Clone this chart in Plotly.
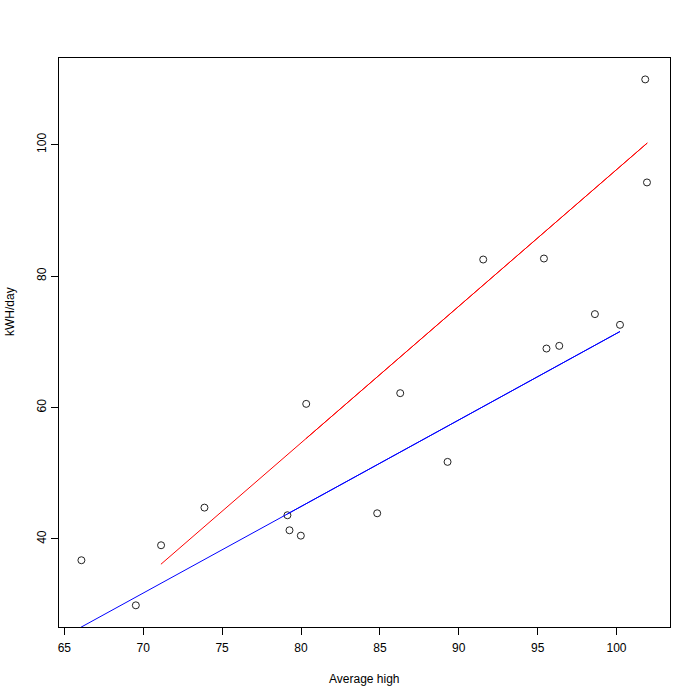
import plotly.graph_objects as go

# Data points (Average high vs kWH/day)
avg_high = [66.08, 69.53, 71.13, 73.88, 79.14, 79.27, 79.99, 80.33, 84.83, 86.29,
            89.29, 91.55, 95.40, 95.56, 96.37, 98.63, 100.22, 101.82, 101.93]
kwh_day = [36.76, 29.90, 39.04, 44.77, 43.61, 41.32, 40.50, 60.56, 43.91, 62.19,
           51.73, 82.53, 82.68, 68.98, 69.39, 74.22, 72.59, 109.94, 94.26]

# Fitted lines
red_x = [71.12, 101.95]
red_y = [36.15, 100.26]
blue_x = [66.04, 100.22]
blue_y = [26.55, 71.57]

# overdrawn parts (fitted lines drawn repeatedly in R)
red_x2 = [80.33, 101.95]
blue_x2 = [79.14, 100.22]

def interp(xs, ys, x):
    return ys[0] + (ys[1] - ys[0]) * (x - xs[0]) / (xs[1] - xs[0])

red_y2 = [interp(red_x, red_y, v) for v in red_x2]
blue_y2 = [interp(blue_x, blue_y, v) for v in blue_x2]

x_ticks = [65, 70, 75, 80, 85, 90, 95, 100]
y_ticks = [40, 60, 80, 100]

fig = go.Figure()
fig.add_trace(go.Scatter(x=avg_high, y=kwh_day, mode="markers",
                         marker=dict(symbol="circle-open", size=7,
                                     color="#222222", line=dict(width=1)),
                         showlegend=False))
fig.add_trace(go.Scatter(x=red_x, y=red_y, mode="lines",
                         line=dict(color="red", width=1), showlegend=False))
fig.add_trace(go.Scatter(x=red_x2, y=red_y2, mode="lines",
                         line=dict(color="red", width=1), showlegend=False))
fig.add_trace(go.Scatter(x=blue_x, y=blue_y, mode="lines",
                         line=dict(color="blue", width=1), showlegend=False))
fig.add_trace(go.Scatter(x=blue_x2, y=blue_y2, mode="lines",
                         line=dict(color="blue", width=1), showlegend=False))

font = dict(family="Liberation Sans, Arial, sans-serif", size=12, color="black")

W, H = 700, 700
ML, MR, MT, MB = 59, 30, 58, 73

fig.update_layout(
    width=W, height=H,
    margin=dict(l=ML, r=MR, t=MT, b=MB, autoexpand=False),
    paper_bgcolor="white", plot_bgcolor="white",
    font=font,
    showlegend=False,
    xaxis=dict(range=[64.66, 103.39], tickvals=x_ticks,
               ticktext=[str(v) for v in x_ticks],
               showgrid=False, zeroline=False,
               showline=True, mirror=True, linecolor="black", linewidth=1,
               ticks="outside", ticklen=7, tickcolor="black", tickwidth=1,
               tickfont=font, ticklabelstandoff=3, automargin=False),
    yaxis=dict(range=[26.6, 113.2], tickvals=y_ticks,
               ticktext=[str(v) for v in y_ticks],
               showgrid=False, zeroline=False,
               showline=True, mirror=True, linecolor="black", linewidth=1,
               ticks="outside", ticklen=7, tickcolor="black", tickwidth=1,
               tickangle=-90, tickfont=font, automargin=False),
)

# axis titles placed at reference pixel positions
pw = W - ML - MR
ph = H - MT - MB
def to_paper(px, py):
    return ((px - ML) / pw, (H - MB - py) / ph)

ax, ay = to_paper(364, 679)
bx, by = to_paper(10, 312)
fig.add_annotation(text="Average high", x=ax, y=ay, xref="paper", yref="paper",
                   showarrow=False, font=font, xanchor="center", yanchor="middle")
fig.add_annotation(text="kWH/day", x=bx, y=by, xref="paper", yref="paper",
                   showarrow=False, font=font, textangle=-90,
                   xanchor="center", yanchor="middle")

fig.write_html("out.html",
               config={"displayModeBar": False, "staticPlot": True},
               post_script="document.body.style.margin='0px';"
                           "document.body.style.overflow='hidden';")
